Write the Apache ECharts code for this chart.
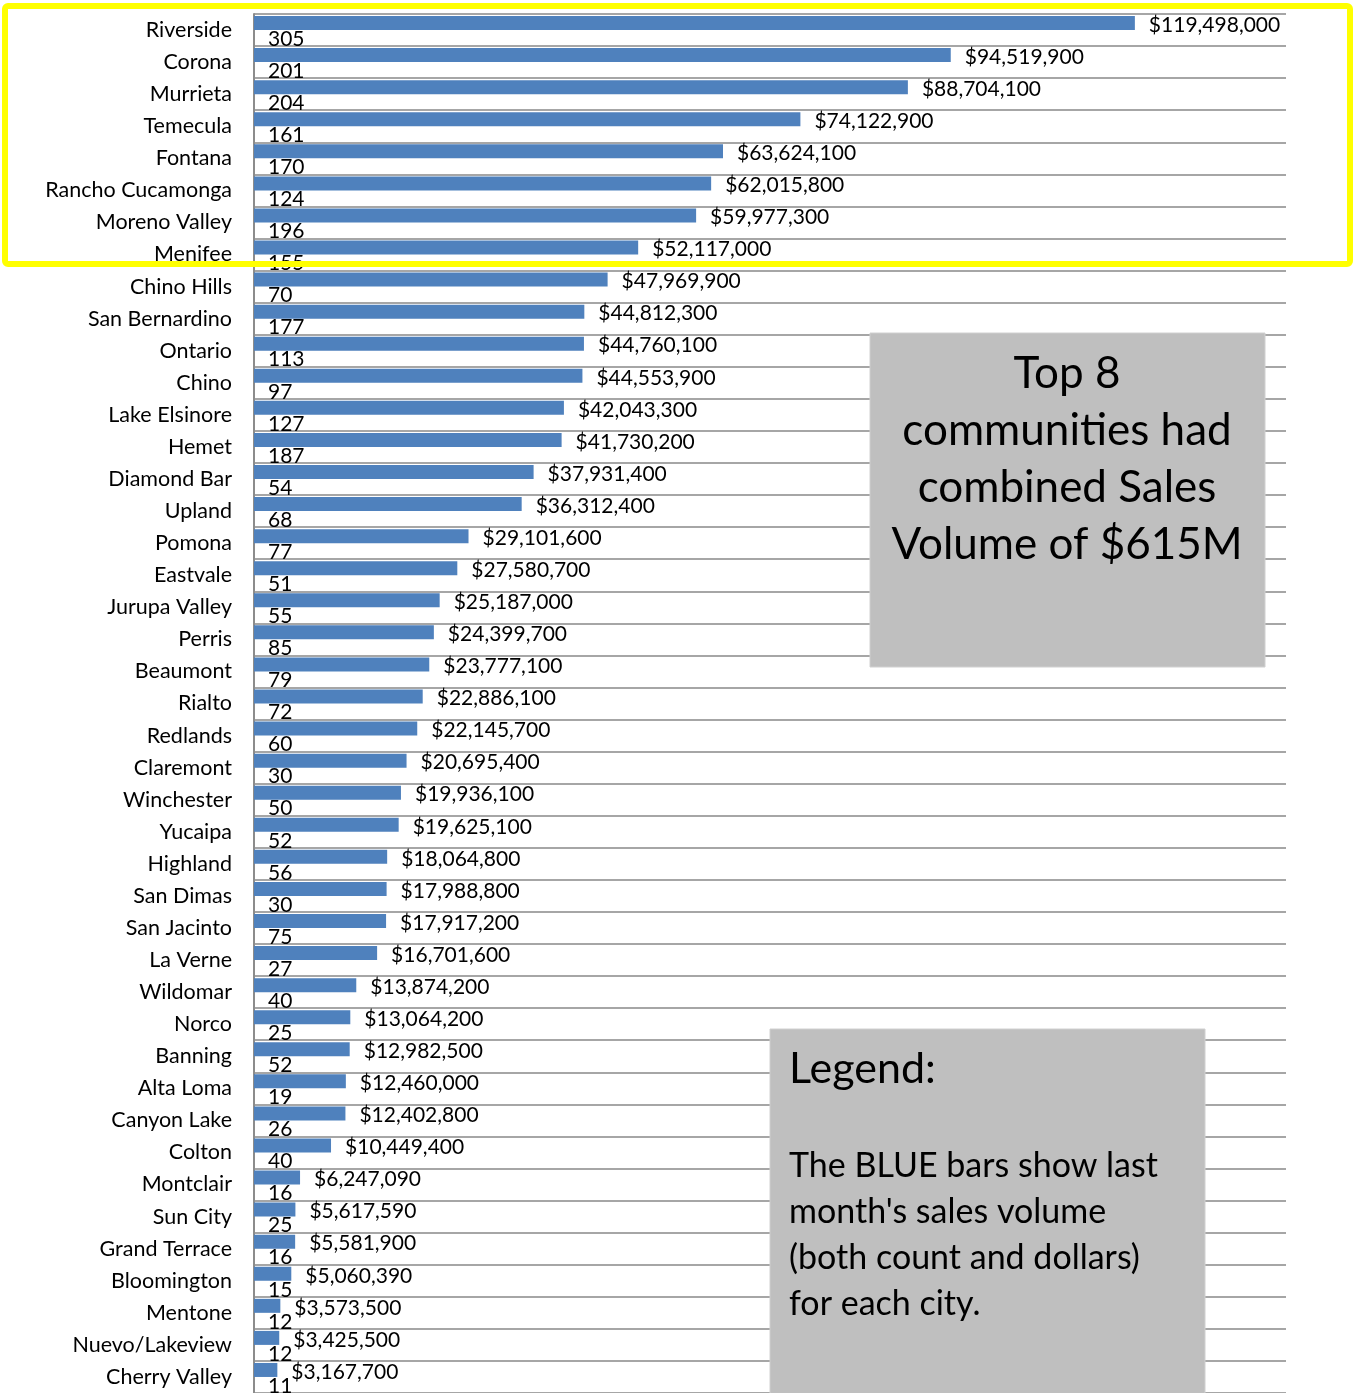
<!DOCTYPE html>
<html lang="en">

<head>
    <meta charset="UTF-8">
    <title>Sales volume by city</title>
    <script src="https://cdn.jsdelivr.net/npm/echarts@6/dist/echarts.min.js"></script>
    <style>
        body {
            margin: 0;
            background: #fff;
        }

        #root {
            width: 1353px;
            height: 1393px;
        }
    </style>
</head>

<body>

    <div id="root"></div>
    <script>

        var cities = ['Riverside', 'Corona', 'Murrieta', 'Temecula', 'Fontana', 'Rancho Cucamonga',
            'Moreno Valley', 'Menifee', 'Chino Hills', 'San Bernardino', 'Ontario', 'Chino',
            'Lake Elsinore', 'Hemet', 'Diamond Bar', 'Upland', 'Pomona', 'Eastvale', 'Jurupa Valley',
            'Perris', 'Beaumont', 'Rialto', 'Redlands', 'Claremont', 'Winchester', 'Yucaipa',
            'Highland', 'San Dimas', 'San Jacinto', 'La Verne', 'Wildomar', 'Norco', 'Banning',
            'Alta Loma', 'Canyon Lake', 'Colton', 'Montclair', 'Sun City', 'Grand Terrace',
            'Bloomington', 'Mentone', 'Nuevo/Lakeview', 'Cherry Valley'];

        // last month's sales volume in dollars
        var dollars = [119498000, 94519900, 88704100, 74122900, 63624100, 62015800,
            59977300, 52117000, 47969900, 44812300, 44760100, 44553900,
            42043300, 41730200, 37931400, 36312400, 29101600, 27580700, 25187000,
            24399700, 23777100, 22886100, 22145700, 20695400, 19936100, 19625100,
            18064800, 17988800, 17917200, 16701600, 13874200, 13064200, 12982500,
            12460000, 12402800, 10449400, 6247090, 5617590, 5581900,
            5060390, 3573500, 3425500, 3167700];

        // number of sales
        var counts = [305, 201, 204, 161, 170, 124,
            196, 155, 70, 177, 113, 97,
            127, 187, 54, 68, 77, 51, 55,
            85, 79, 72, 60, 30, 50, 52,
            56, 30, 75, 27, 40, 25, 52,
            19, 26, 40, 16, 25, 16,
            15, 12, 12, 11];

        var FONT = 'Lato';

        var chart = echarts.init(document.getElementById('root'));

        chart.setOption({
            animation: false,
            textStyle: { fontFamily: FONT },
            grid: { left: 254, top: 14, width: 1032, height: 1380 },
            xAxis: {
                type: 'value',
                min: 0,
                max: 140000000,
                show: false
            },
            yAxis: {
                type: 'category',
                data: cities,
                inverse: true,
                axisLine: { lineStyle: { color: '#8c8c8c', width: 2 } },
                axisTick: { length: 7, lineStyle: { color: '#8c8c8c', width: 2 } },
                axisLabel: { color: '#000', fontSize: 21.5, margin: 22, fontFamily: FONT },
                splitLine: { show: true, lineStyle: { color: '#a6a6a6', width: 2 } }
            },
            series: [{
                // dollars, top half of each row
                type: 'bar',
                data: dollars,
                barWidth: 14,
                barGap: '0%',
                itemStyle: { color: '#4f81bd' },
                label: {
                    show: true,
                    position: 'right',
                    distance: 14,
                    offset: [0, 2],
                    color: '#000',
                    fontSize: 21,
                    fontFamily: FONT,
                    formatter: function (p) {
                        return '$' + p.value.toLocaleString('en-US');
                    }
                }
            }, {
                // counts, too small to be seen on the dollar scale
                type: 'bar',
                data: counts,
                barWidth: 14,
                barGap: '0%',
                itemStyle: { color: '#c0504d' },
                label: {
                    show: true,
                    position: 'right',
                    distance: 14,
                    offset: [0, 2],
                    color: '#000',
                    fontSize: 21,
                    fontFamily: FONT
                }
            }],
            graphic: [{
                type: 'rect',
                z: 100,
                shape: { x: 870, y: 333, width: 395, height: 334 },
                style: { fill: '#bfbfbf', stroke: '#d0d0d0', lineWidth: 1 }
            }, {
                type: 'text',
                z: 101,
                x: 1067,
                y: 345,
                style: {
                    text: 'Top 8\ncommunities had\ncombined Sales\nVolume of $615M',
                    font: '44px ' + FONT,
                    fill: '#000',
                    textAlign: 'center',
                    textVerticalAlign: 'top',
                    lineHeight: 57
                }
            }, {
                type: 'rect',
                z: 100,
                shape: { x: 770, y: 1029, width: 435, height: 400 },
                style: { fill: '#bfbfbf', stroke: '#d0d0d0', lineWidth: 1 }
            }, {
                type: 'text',
                z: 101,
                x: 789,
                y: 1069,
                style: {
                    text: 'Legend:',
                    font: '43px ' + FONT,
                    fill: '#000',
                    textAlign: 'left',
                    textVerticalAlign: 'middle'
                }
            }, {
                type: 'text',
                z: 101,
                x: 789,
                y: 1143,
                style: {
                    text: "The BLUE bars show last\nmonth's sales volume\n(both count and dollars)\nfor each city.",
                    font: '34px ' + FONT,
                    fill: '#000',
                    textAlign: 'left',
                    textVerticalAlign: 'top',
                    lineHeight: 46
                }
            }, {
                // yellow highlight round the top 8
                type: 'rect',
                z: 110,
                shape: { x: 5, y: 6, width: 1345, height: 258, r: 3 },
                style: { fill: 'none', stroke: '#ffff00', lineWidth: 6 }
            }]
        });

    </script>

</body>

</html>
